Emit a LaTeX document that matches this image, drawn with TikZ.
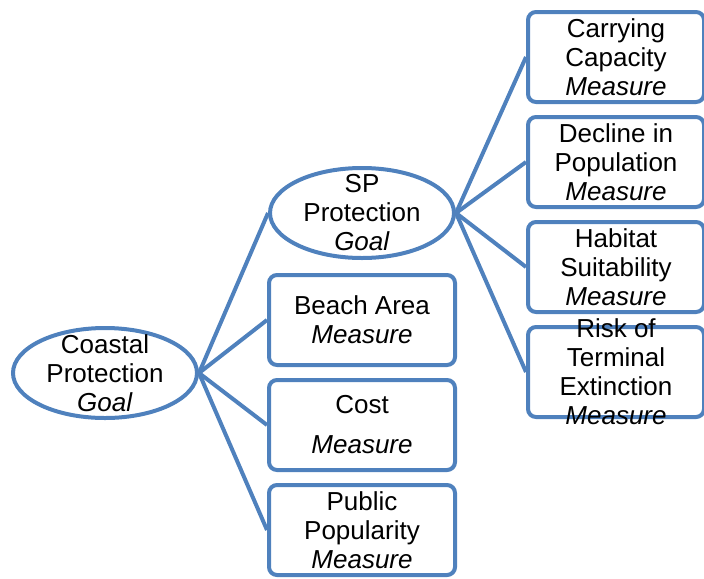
\documentclass[tikz,border=0pt]{standalone}
\usepackage{fontspec}
\setmainfont{Liberation Sans}
\usetikzlibrary{shapes,arrows}
\usetikzlibrary{positioning}
\definecolor{goalblue}{RGB}{79,129,189}
\tikzstyle{goal} = [draw=goalblue, ellipse, line width=2pt, minimum width=92pt,
minimum height=45pt, inner xsep=0pt, inner ysep=-7pt, align=center]
\tikzstyle{measure} = [draw=goalblue, rectangle, rounded corners=4pt, line width=2pt,
minimum height=45pt, inner sep=0pt, align=center]
\tikzstyle{line} = [draw, line width=2pt, color=goalblue]

\begin{document}
\begin{tikzpicture}[x=0.5pt, y=-0.5pt, node distance=5.5pt,
	font=\fontsize{13pt}{14.5pt}\selectfont,
	leftbox/.style={measure, minimum width=93pt},
	rightbox/.style={measure, minimum width=88pt}]
	\useasboundingbox (0,0) rectangle (704,578);
	%% Goals
	\node[goal] (coastal) at (105,373) {Coastal\\Protection\\\textit{Goal}};
	\node[goal] (sp) at (362,213) {SP\\Protection\\\textit{Goal}};
	%% Measures of the coastal goal
	\node[leftbox, below=6.5pt of sp] (beach) {Beach Area\\\textit{Measure}};
	\node[leftbox, below=of beach] (cost) {Cost\\[5.5pt]\textit{Measure}};
	\node[leftbox, below=of cost] (public) {Public\\Popularity\\\textit{Measure}};
	%% Measures of the SP goal
	\node[rightbox] (carrying) at (616,57) {Carrying\\Capacity\\\textit{Measure}};
	\node[rightbox, below=of carrying] (decline) {Decline in\\Population\\\textit{Measure}};
	\node[rightbox, below=of decline] (habitat) {Habitat\\Suitability\\\textit{Measure}};
	\node[rightbox, below=of habitat, inner ysep=-6pt] (risk) {Risk of\\Terminal\\Extinction\\\textit{Measure}};
	%% Links
	\path [line] (coastal.east) to (sp.west);
	\path [line] (coastal.east) to (beach.west);
	\path [line] (coastal.east) to (cost.west);
	\path [line] (coastal.east) to (public.west);
	\path [line] (sp.east) to (carrying.west);
	\path [line] (sp.east) to (decline.west);
	\path [line] (sp.east) to (habitat.west);
	\path [line] (sp.east) to (risk.west);
\end{tikzpicture}
\end{document}
